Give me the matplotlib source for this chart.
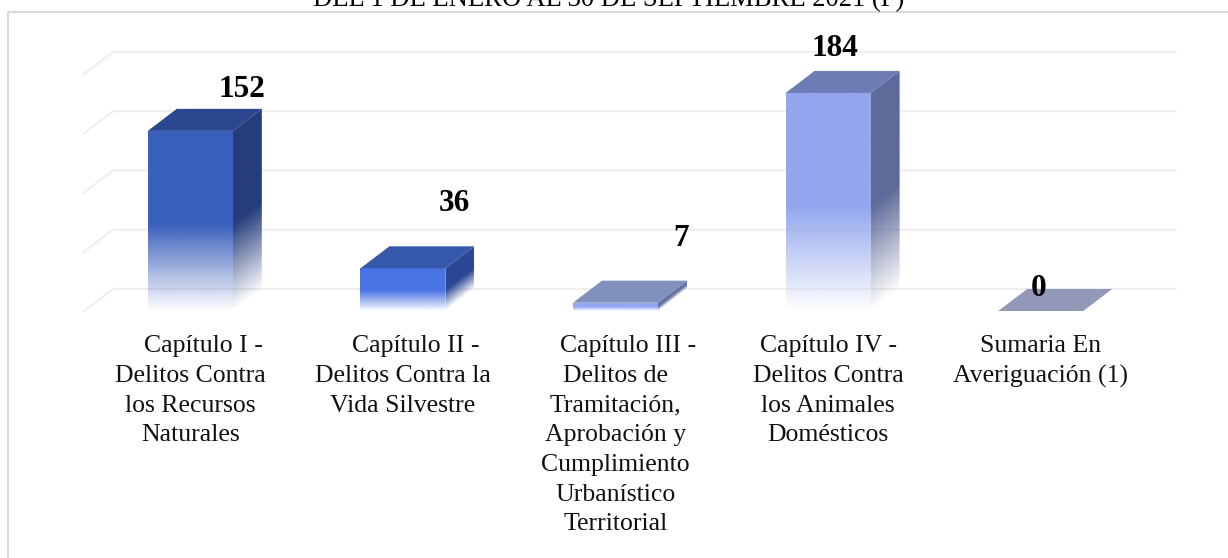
import matplotlib.pyplot as plt
from matplotlib.lines import Line2D
from matplotlib.patches import Polygon
from matplotlib.colors import to_rgb
import numpy as np

plt.rcParams['font.family'] = ['Liberation Serif', 'DejaVu Serif']

titulo = 'DEL 1 DE ENERO AL 30 DE SEPTIEMBRE 2021 (P)'
categorias = ['    Capítulo I -\nDelitos Contra\nlos Recursos\nNaturales',
              '    Capítulo II -\nDelitos Contra la\nVida Silvestre',
              '    Capítulo III -\nDelitos de\nTramitación,\nAprobación y\nCumplimiento\nUrbanístico\nTerritorial',
              'Capítulo IV -\nDelitos Contra\nlos Animales\nDomésticos',
              'Sumaria En\nAveriguación (1)']
valores = [152, 36, 7, 184, 0]
niveles = [0, 50, 100, 150, 200]

color_frente = ['#3A60BE', '#4A74E4', '#92A6EE', '#92A6EE', '#92A6EE']
color_arriba = ['#2C478F', '#3558AD', '#8090BC', '#6D7CB4', '#9298B8']
color_lado = ['#263D7C', '#2B4892', '#6773A0', '#5E6A9A', '#6773A0']

# desplazamiento de las etiquetas respecto a la barra (pixeles)
etiqueta_dx = [51.5, 51, 65.5, 7, -2]
etiqueta_dy = [41, 65, 64.5, 44, 23]

ancho = 0.4
prof_x = 29 / 212.6
prof_y = 18.6


def cara_degradada(ax, x0, x1, corte, alto, color):
    # cara con degradado hacia blanco en la parte baja
    xx = np.linspace(x0, x1, 120)
    yy = np.linspace(0, alto + corte, 300)
    X, Y = np.meshgrid(xx, yy)
    u = (X - x0) / (x1 - x0)
    v = (Y - u * corte) / alto
    alfa = np.clip(v / 0.48, 0, 1)
    img = np.zeros(X.shape + (4,))
    img[..., :3] = to_rgb(color)
    img[..., 3] = alfa
    im = ax.imshow(img, extent=(x0, x1, 0, alto + corte), origin='lower',
                   aspect='auto', interpolation='bilinear', zorder=3)
    borde = Polygon([(x0, 0), (x1, corte), (x1, alto + corte), (x0, alto)],
                    transform=ax.transData, facecolor='none', edgecolor='none')
    im.set_clip_path(borde)


fig = plt.figure(figsize=(12.28, 5.58), dpi=100)
ax = fig.add_axes([84 / 1228, 247 / 558, 1063 / 1228, 308 / 558])
ax.set_xlim(-0.5, 4.5)
ax.set_ylim(0, 308 / 1.185)

for n in niveles:
    ax.plot([-0.5, -0.5 + prof_x, 4.5 + prof_x], [n, n + prof_y, n + prof_y],
            color='#EFEFEF', lw=1.6, clip_on=False, zorder=1)

for i, v in enumerate(valores):
    x0 = i - ancho / 2
    x1 = i + ancho / 2
    if v > 0:
        cara_degradada(ax, x0, x1, 0, v, color_frente[i])
        cara_degradada(ax, x1, x1 + prof_x, prof_y, v, color_lado[i])
    ax.add_patch(Polygon([(x0, v), (x1, v), (x1 + prof_x, v + prof_y), (x0 + prof_x, v + prof_y)],
                         facecolor=color_arriba[i], edgecolor='none', zorder=4))
    ax.annotate(str(v), xy=(i, v), xytext=(etiqueta_dx[i], etiqueta_dy[i]),
                textcoords='offset pixels', ha='center', va='center',
                fontsize=22.5, fontweight='bold', color='black', zorder=5)

ax.set_xlim(-0.5, 4.5)
ax.set_ylim(0, 308 / 1.185)
ax.set_xticks(range(5))
ax.set_xticklabels(categorias, fontsize=18.5, linespacing=1.45, color='#111111')
ax.set_yticks([])
ax.tick_params(axis='x', length=0, pad=17.5)
for s in ax.spines.values():
    s.set_visible(False)
ax.patch.set_alpha(0)

# marco del grafico, solo se ve arriba y a la izquierda
fig.add_artist(Line2D([7.5 / 1228, 7.5 / 1228, 1], [0, 1 - 12 / 558, 1 - 12 / 558],
                      color='#D9D9D9', lw=1.5))
fig.text(609 / 1228, 1 - 6 / 558, titulo, ha='center', va='baseline', fontsize=19.2, color='black')

plt.savefig('out.png', dpi=100)
